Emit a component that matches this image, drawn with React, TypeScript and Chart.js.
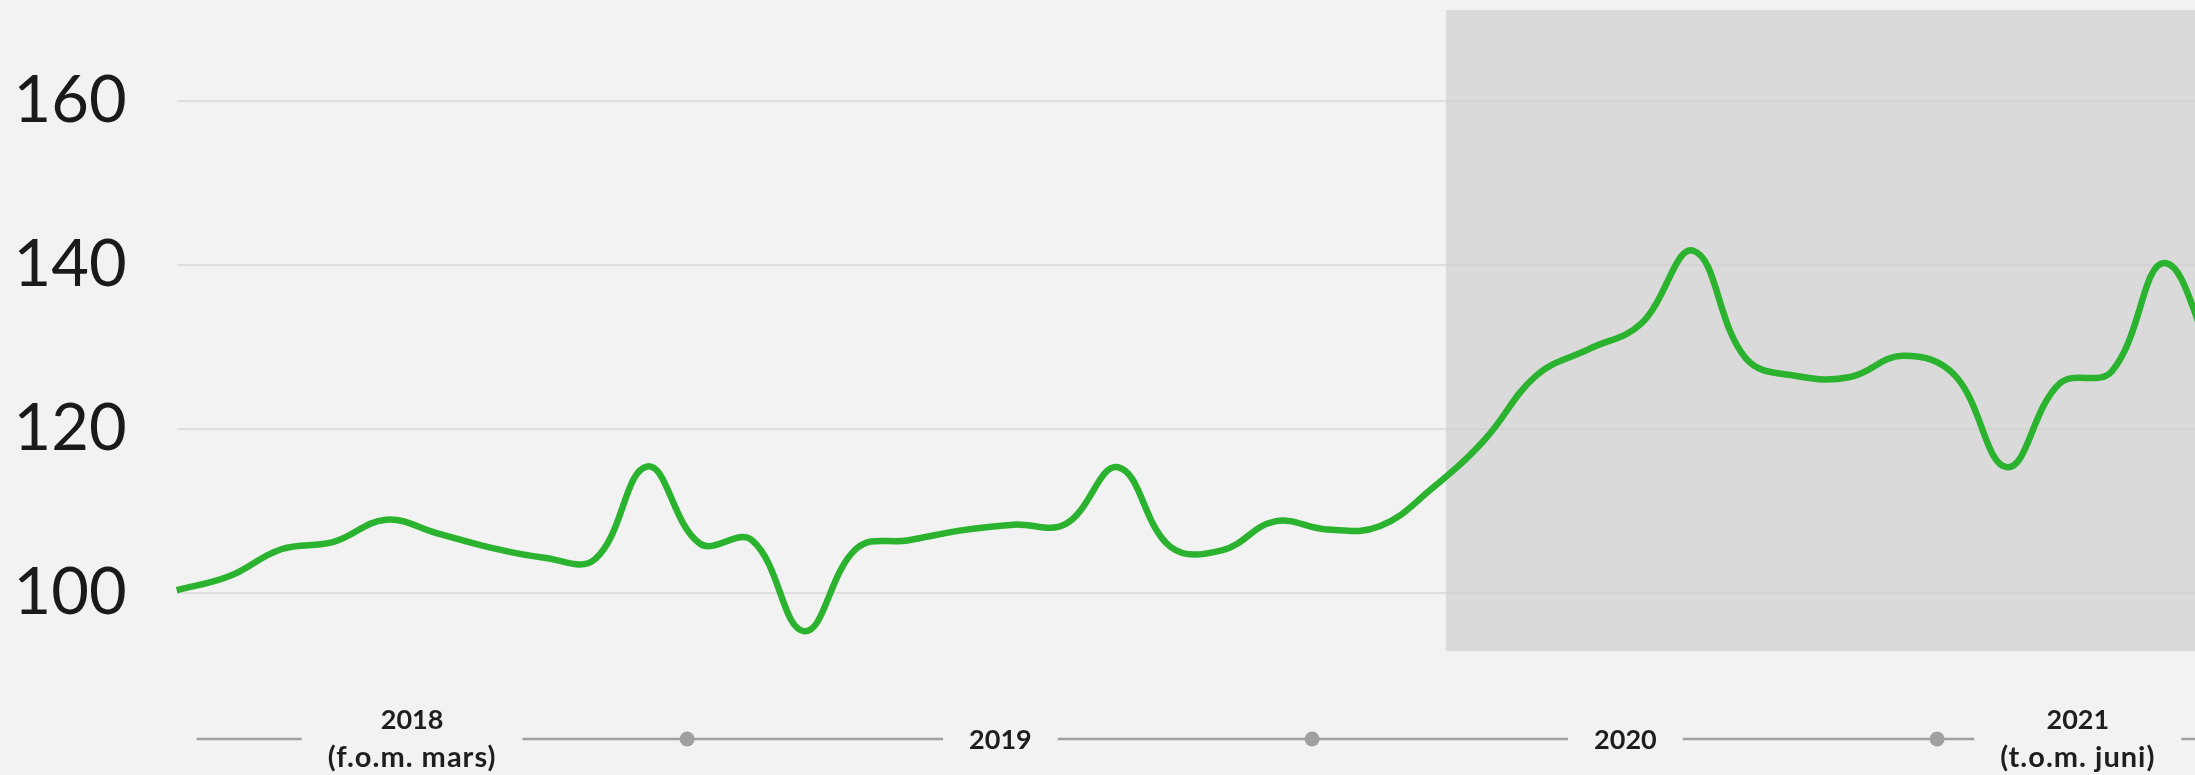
import React, { useEffect, useRef } from 'react';
import { Chart, registerables } from 'chart.js';

Chart.register(...registerables);

// Categories: monthly, March 2018 through June 2021
const months = [
  'mar 2018', 'apr 2018', 'maj 2018', 'jun 2018', 'jul 2018', 'aug 2018', 'sep 2018', 'okt 2018', 'nov 2018', 'dec 2018',
  'jan 2019', 'feb 2019', 'mar 2019', 'apr 2019', 'maj 2019', 'jun 2019', 'jul 2019', 'aug 2019', 'sep 2019', 'okt 2019', 'nov 2019', 'dec 2019',
  'jan 2020', 'feb 2020', 'mar 2020', 'apr 2020', 'maj 2020', 'jun 2020', 'jul 2020', 'aug 2020', 'sep 2020', 'okt 2020', 'nov 2020', 'dec 2020',
  'jan 2021', 'feb 2021', 'mar 2021', 'apr 2021', 'maj 2021', 'jun 2021',
];

// Index values
const indexValues = [
  100.3, 102.0, 105.3, 106.2, 108.9, 107.2, 105.5, 104.3, 104.1, 115.4,
  106.0, 106.4, 95.3, 105.4, 106.4, 107.6, 108.3, 108.4, 115.3, 105.6, 105.2, 108.7,
  107.7, 108.1, 112.7, 118.6, 126.5, 129.7, 132.8, 141.7, 128.6, 126.4, 126.3, 128.9,
  126.5, 115.3, 125.5, 127.0, 140.2, 127.5,
];

const yTicks = [100, 120, 140, 160];

// Year labels under the plot, with the category position (index) of their centre
const yearLabels = [['2018', '(f.o.m. mars)'], ['2019'], ['2020'], ['2021', '(t.o.m. juni)']];
const yearLabelCenters = [4.5, 15.75, 27.7, 36.35];
// Dots on the timeline between years (category position)
const yearDots = [9.76, 21.71, 33.66];
// Shaded period starts at this category position
const shadeFrom = 24.27;

const shadePlugin = {
  id: 'shade',
  beforeDatasetsDraw(chart: any) {
    const { ctx, chartArea } = chart;
    const x = chart.scales.x;
    const x0 = x.getPixelForValue(shadeFrom);
    ctx.save();
    ctx.fillStyle = 'rgba(204,204,204,0.65)';
    ctx.fillRect(x0, chartArea.top, chart.width - x0, chartArea.bottom - chartArea.top);
    ctx.restore();
  },
};

const timelinePlugin = {
  id: 'timeline',
  afterDraw(chart: any) {
    const { ctx, chartArea } = chart;
    const x = chart.scales.x;
    const lineY = 739;
    ctx.save();
    const yearFont = 'bold 27px Lato';
    const noteFont = 'bold 29px Lato';
    const measure = (l: string, idx: number) => {
      ctx.font = idx === 0 ? yearFont : noteFont;
      (ctx as any).letterSpacing = idx === 0 ? '0px' : '1px';
      return ctx.measureText(l).width;
    };
    const blocks = yearLabels.map((lines, i) => {
      const cx = x.getPixelForValue(yearLabelCenters[i]);
      const w = Math.max(...lines.map((l, k) => measure(l, k)));
      return { cx, w, lines };
    });
    ctx.strokeStyle = '#a0a0a0';
    ctx.lineWidth = 2.5;
    const seg = (a: number, b: number) => {
      ctx.beginPath();
      ctx.moveTo(a, lineY);
      ctx.lineTo(b, lineY);
      ctx.stroke();
    };
    let start = chartArea.left + 20;
    for (const b of blocks) {
      seg(start, b.cx - b.w / 2 - 26);
      start = b.cx + b.w / 2 + 26;
    }
    seg(start, chartArea.right - 20);
    ctx.fillStyle = '#a0a0a0';
    for (const d of yearDots) {
      ctx.beginPath();
      ctx.arc(x.getPixelForValue(d), lineY, 7.5, 0, Math.PI * 2);
      ctx.fill();
    }
    ctx.fillStyle = '#1e1e1e';
    ctx.textAlign = 'center';
    ctx.textBaseline = 'middle';
    for (const b of blocks) {
      if (b.lines.length === 1) {
        ctx.font = yearFont;
        (ctx as any).letterSpacing = '0px';
        ctx.fillText(b.lines[0], b.cx, lineY + 1);
      } else {
        ctx.font = yearFont;
        (ctx as any).letterSpacing = '0px';
        ctx.fillText(b.lines[0], b.cx, lineY - 19);
        ctx.font = noteFont;
        (ctx as any).letterSpacing = '1px';
        ctx.fillText(b.lines[1], b.cx, lineY + 19);
      }
    }
    ctx.restore();
  },
};

export default function App() {
  const ref = useRef<HTMLCanvasElement | null>(null);
  useEffect(() => {
    if (!ref.current) return;
    const chart = new Chart(ref.current, {
      type: 'line',
      data: {
        labels: months,
        datasets: [
          {
            data: indexValues,
            borderColor: '#2bb330',
            borderWidth: 6.5,
            pointRadius: 0,
            tension: 0.4,
            fill: false,
          },
        ],
      },
      options: {
        animation: false,
        responsive: false,
        events: [],
        layout: { padding: { left: 0, top: 10, right: 13.6, bottom: 124 } },
        plugins: { legend: { display: false }, tooltip: { enabled: false } },
        scales: {
          x: { display: false },
          y: {
            min: 92.89,
            max: 171.06,
            border: { display: false },
            grid: { color: '#dedede', lineWidth: 2, drawTicks: false },
            afterBuildTicks: (scale: any) => {
              scale.ticks = yTicks.map((v) => ({ value: v }));
            },
            afterFit: (scale: any) => {
              scale.width = 176.7;
              scale.paddingTop = 0;
              scale.paddingBottom = 0;
            },
            ticks: {
              padding: 50,
              color: '#1a1a1a',
              font: { family: 'Lato', size: 65 },
            },
          },
        },
      },
      plugins: [shadePlugin, timelinePlugin],
    });
    return () => chart.destroy();
  }, []);
  return (
    <div
      style={{
        position: 'fixed',
        left: 0,
        top: 0,
        width: 2195,
        height: 775,
        overflow: 'hidden',
        background: '#f2f2f2',
      }}
    >
      <canvas ref={ref} width={2230} height={775} style={{ display: 'block' }} />
    </div>
  );
}
